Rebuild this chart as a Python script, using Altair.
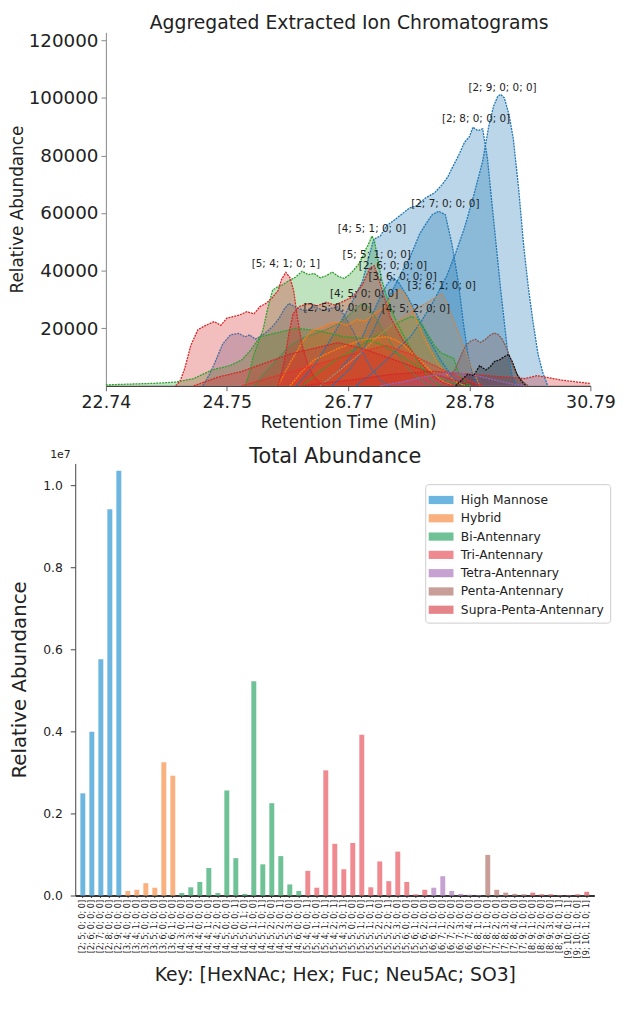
import altair as alt
import pandas as pd

FONT = "DejaVu Sans"

# ---------------- Top chart: aggregated extracted ion chromatograms ----------------
t_2_9 = [26.9, 27.2, 27.5, 27.8, 28.0, 28.2, 28.4, 28.55, 28.7, 28.85, 29.0, 29.1, 29.18, 29.25, 29.3, 29.36, 29.44, 29.51, 29.6, 29.68, 29.76, 29.84, 29.92, 30.0, 30.08]
a_2_9 = [0, 5000, 11000, 17000, 23000, 30000, 38000, 46000, 55000, 66000, 78000, 90000, 97000, 100500, 101200, 100000, 94000, 85700, 68000, 49000, 34000, 21700, 11000, 4500, 0]

t_2_8 = [25.9, 26.2, 26.5, 26.8, 27.0, 27.1, 27.19, 27.3, 27.4, 27.51, 27.65, 27.78, 27.9, 28.05, 28.2, 28.32, 28.42, 28.49, 28.6, 28.7, 28.78, 28.84, 28.92, 29.0, 29.08, 29.19, 29.3, 29.41, 29.49, 29.57]
a_2_8 = [0, 7000, 17000, 28000, 36000, 44000, 50900, 52000, 55500, 57200, 59500, 61700, 62500, 65200, 67000, 69700, 72500, 75500, 80000, 84600, 86500, 89800, 88600, 89200, 78900, 56000, 33300, 12700, 3400, 0]

t_2_7 = [26.5, 26.8, 27.0, 27.2, 27.35, 27.5, 27.67, 27.8, 27.95, 28.05, 28.16, 28.27, 28.38, 28.49, 28.6, 28.68, 28.76, 28.84, 28.92]
a_2_7 = [0, 6000, 12000, 20000, 27000, 33000, 40000, 45000, 52600, 56000, 59400, 60600, 59400, 49200, 35400, 21700, 10300, 3400, 0]

t_2_6 = [26.3, 26.6, 26.8, 27.0, 27.15, 27.3, 27.42, 27.51, 27.6, 27.75, 27.9, 28.1, 28.3, 28.5, 28.7]
a_2_6 = [0, 5000, 10000, 17000, 24000, 31000, 35500, 37500, 36000, 31000, 25000, 16500, 9000, 3000, 0]

t_2_5 = [24.35, 24.45, 24.55, 24.68, 24.81, 24.95, 25.05, 25.13, 25.22, 25.28, 25.4, 25.51, 25.62, 25.7, 25.78, 25.9, 26.05, 26.2, 26.35, 26.5, 26.59, 26.7, 26.85, 27.0, 27.15, 27.3, 27.45]
a_2_5 = [0, 3500, 8000, 14500, 17700, 18200, 17000, 17700, 16200, 16800, 18500, 20600, 23500, 26500, 28600, 27200, 26000, 27400, 26300, 27000, 27400, 24500, 19000, 12000, 6000, 2000, 0]

t_4_5_1 = [25.05, 25.12, 25.19, 25.27, 25.35, 25.43, 25.51, 25.6, 25.67, 25.78, 25.89, 26.0, 26.1, 26.2, 26.3, 26.4, 26.5, 26.6, 26.7, 26.78, 26.85, 26.93, 27.0, 27.06, 27.1, 27.16, 27.2, 27.24, 27.32, 27.42, 27.51, 27.6, 27.7, 27.8, 27.9, 28.0, 28.1, 28.2, 28.3]
a_4_5_1 = [0, 4000, 10300, 15000, 19400, 27000, 33200, 34500, 35000, 36500, 37700, 39800, 38600, 39000, 37500, 38200, 39500, 38000, 37300, 38500, 40000, 42000, 44600, 47500, 49000, 52000, 50500, 46000, 37000, 30000, 25100, 21000, 17000, 13000, 9000, 6000, 3000, 1200, 0]

t_4_5_0 = [25.2, 25.4, 25.6, 25.8, 26.0, 26.2, 26.4, 26.6, 26.75, 26.9, 27.0, 27.1, 27.2, 27.35, 27.5, 27.65, 27.8, 28.0, 28.15]
a_4_5_0 = [0, 5000, 9500, 14000, 16500, 18000, 19500, 21500, 24000, 27000, 28500, 27500, 24500, 19000, 14000, 9000, 5000, 1500, 0]

t_4_5_2 = [26.0, 26.3, 26.6, 26.9, 27.2, 27.4, 27.55, 27.7, 27.81, 27.9, 28.0, 28.1, 28.2, 28.3, 28.43, 28.52, 28.6, 28.7, 28.8]
a_4_5_2 = [0, 5000, 9500, 13000, 17000, 19500, 21500, 23000, 24000, 23500, 21000, 17500, 14000, 11500, 10300, 9500, 4500, 1500, 0]

t_4_4_1 = [22.74, 23.0, 23.3, 23.6, 23.9, 24.2, 24.5, 24.8, 25.0, 25.15, 25.3, 25.6, 25.9, 26.1, 26.3, 26.5, 26.7, 27.0, 27.3, 27.6, 27.9, 28.2, 28.5, 28.8]
a_4_4_1 = [300, 500, 700, 900, 1300, 2500, 5500, 7000, 9000, 12500, 17000, 18500, 20000, 19500, 19000, 18000, 17000, 16500, 14500, 11000, 7000, 3500, 1000, 0]

t_3_6_0 = [25.6, 25.8, 26.0, 26.15, 26.3, 26.45, 26.6, 26.75, 26.9, 27.05, 27.2, 27.35, 27.45, 27.55, 27.62, 27.7, 27.8, 27.9, 28.0, 28.12, 28.25, 28.4, 28.55, 28.7]
a_3_6_0 = [0, 8000, 15000, 19000, 20000, 21500, 22000, 21000, 23000, 22500, 25000, 27000, 30000, 32000, 33500, 32000, 28000, 23000, 18000, 13000, 8000, 4000, 1500, 0]

t_3_6_1 = [26.3, 26.6, 26.9, 27.1, 27.3, 27.5, 27.7, 27.9, 28.05, 28.2, 28.32, 28.4, 28.49, 28.6, 28.7, 28.8, 28.87, 28.95]
a_3_6_1 = [0, 5000, 10000, 14000, 18000, 21000, 24000, 27000, 28500, 30500, 32000, 29000, 24000, 18300, 12600, 7000, 4000, 0]

t_3_5_1 = [25.8, 26.0, 26.2, 26.4, 26.6, 26.8, 27.0, 27.2, 27.4, 27.55, 27.7, 27.85, 28.0, 28.15, 28.3, 28.5]
a_3_5_1 = [0, 5000, 9000, 11000, 13000, 14500, 16000, 16500, 17000, 16000, 14000, 11000, 8000, 5000, 2000, 0]

t_5_4_1 = [23.9, 23.97, 24.05, 24.15, 24.27, 24.4, 24.54, 24.65, 24.75, 24.85, 24.95, 25.08, 25.2, 25.3, 25.4, 25.5, 25.6, 25.66, 25.73, 25.8, 25.86, 25.92, 26.0, 26.1, 26.2, 26.35]
a_5_4_1 = [0, 1500, 6000, 14000, 19500, 21000, 22300, 21000, 23500, 24000, 24500, 25700, 25000, 27500, 28600, 30500, 33000, 37000, 39400, 37500, 33000, 24000, 14000, 7000, 3000, 0]

t_5_5_1 = [25.6, 25.7, 25.78, 25.85, 25.95, 26.1, 26.25, 26.4, 26.55, 26.7, 26.85, 27.0, 27.13, 27.2, 27.3, 27.46, 27.67, 27.89, 28.05, 28.2, 28.35, 28.5]
a_5_5_1 = [0, 8000, 18000, 25000, 27500, 28500, 27800, 29000, 28000, 29500, 31000, 35000, 41000, 41700, 35400, 24000, 16000, 10300, 6000, 3000, 1000, 0]

t_5_4_2 = [24.2, 24.6, 25.0, 25.4, 25.8, 26.2, 26.6, 27.0, 27.4, 27.8, 28.2, 28.6, 29.0]
a_5_4_2 = [0, 3000, 5000, 8000, 11000, 13000, 15000, 13000, 10000, 7000, 4000, 1500, 0]

t_5_5_2 = [25.0, 25.5, 26.0, 26.5, 27.0, 27.4, 27.8, 28.2, 28.6, 29.0]
a_5_5_2 = [0, 3000, 6000, 9000, 12000, 14000, 11000, 7000, 3000, 0]

t_5_6_1 = [26.0, 26.8, 27.5, 28.2, 28.8, 29.4, 29.7, 29.9, 30.1, 30.3, 30.5, 30.79]
a_5_6_1 = [0, 2000, 4000, 5000, 4000, 3000, 2500, 3500, 2800, 2000, 1500, 800]

t_7_8_1 = [28.3, 28.45, 28.55, 28.65, 28.72, 28.8, 28.88, 28.96, 29.04, 29.12, 29.19, 29.26, 29.33, 29.4, 29.5, 29.6, 29.68, 29.76]
a_7_8_1 = [0, 3000, 6000, 11000, 14000, 15500, 16200, 15000, 16000, 17500, 18300, 17800, 16000, 13000, 7000, 3000, 1200, 0]

t_8_9_1 = [28.55, 28.65, 28.75, 28.85, 28.95, 29.05, 29.12, 29.2, 29.28, 29.35, 29.43, 29.5, 29.57, 29.65, 29.72]
a_8_9_1 = [0, 2000, 4000, 3500, 7000, 5500, 6500, 8500, 9000, 10000, 10900, 8000, 4000, 1500, 0]

t_6_7_1 = [27.3, 27.7, 28.0, 28.3, 28.5, 28.7, 28.9, 29.1, 29.3, 29.5, 29.7]
a_6_7_1 = [0, 1500, 3000, 4000, 4800, 4000, 3500, 2500, 1500, 600, 0]

series = [
    ("[2; 9; 0; 0; 0]", t_2_9, a_2_9, "#1f77b4"),
    ("[2; 8; 0; 0; 0]", t_2_8, a_2_8, "#1f77b4"),
    ("[2; 7; 0; 0; 0]", t_2_7, a_2_7, "#1f77b4"),
    ("[2; 6; 0; 0; 0]", t_2_6, a_2_6, "#1f77b4"),
    ("[2; 5; 0; 0; 0]", t_2_5, a_2_5, "#4a6a9e"),
    ("[4; 4; 1; 0; 0]", t_4_4_1, a_4_4_1, "#2ca02c"),
    ("[4; 5; 0; 0; 0]", t_4_5_0, a_4_5_0, "#4e8a52"),
    ("[4; 5; 1; 0; 0]", t_4_5_1, a_4_5_1, "#2ca02c"),
    ("[4; 5; 2; 0; 0]", t_4_5_2, a_4_5_2, "#2ca02c"),
    ("[3; 5; 1; 0; 0]", t_3_5_1, a_3_5_1, "#ff7f0e"),
    ("[3; 6; 0; 0; 0]", t_3_6_0, a_3_6_0, "#ff7f0e"),
    ("[3; 6; 1; 0; 0]", t_3_6_1, a_3_6_1, "#c8874f"),
    ("[5; 4; 1; 0; 1]", t_5_4_1, a_5_4_1, "#d62728"),
    ("[5; 5; 1; 0; 0]", t_5_5_1, a_5_5_1, "#d62728"),
    ("[5; 4; 2; 0; 1]", t_5_4_2, a_5_4_2, "#d62728"),
    ("[5; 5; 2; 0; 0]", t_5_5_2, a_5_5_2, "#e8322a"),
    ("[5; 6; 1; 0; 0]", t_5_6_1, a_5_6_1, "#d62728"),
    ("[6; 7; 1; 0; 0]", t_6_7_1, a_6_7_1, "#9467bd"),
    ("[7; 8; 1; 0; 0]", t_7_8_1, a_7_8_1, "#8c564b"),
    ("[8; 9; 1; 0; 0]", t_8_9_1, a_8_9_1, "#111111"),
]

peak_labels = ["[2; 9; 0; 0; 0]", "[2; 8; 0; 0; 0]", "[2; 7; 0; 0; 0]", "[4; 5; 1; 0; 0]",
               "[5; 5; 1; 0; 0]", "[2; 6; 0; 0; 0]", "[3; 6; 0; 0; 0]", "[3; 6; 1; 0; 0]",
               "[4; 5; 0; 0; 0]", "[2; 5; 0; 0; 0]", "[4; 5; 2; 0; 0]", "[5; 4; 1; 0; 1]"]
peak_t = [29.33, 28.89, 28.38, 27.16, 27.24, 27.51, 27.67, 28.32, 27.03, 26.59, 27.89, 25.73]
peak_a = [103500, 92600, 63100, 54600, 45500, 41700, 37700, 34500, 31800, 26900, 26500, 42300]

rt_ticks = [22.74, 24.75, 26.77, 28.78, 30.79]
ab_ticks = [20000, 40000, 60000, 80000, 100000, 120000]

top_title = ["Aggregated Extracted Ion Chromatograms"]
bottom_title = ["Total Abundance"]
offset_text = ["1e7"]

rows = []
for k, (name, ts, as_, col) in enumerate(series):
    for ti, ai in zip(ts, as_):
        rows.append({"series": name, "t": ti, "a": ai, "color": col, "k": k})
chrom = pd.DataFrame(rows)
lbl_df = pd.DataFrame({"label": peak_labels, "t": peak_t, "a": peak_a})

xs = alt.Scale(domain=[22.74, 30.79], nice=False, zero=False)
ys = alt.Scale(domain=[0, 122750], nice=False)

x_top = alt.X("t:Q", scale=xs, axis=alt.Axis(
    values=rt_ticks, format=".2f", title="Retention Time (Min)", grid=False,
    labelFontSize=17.5, titleFontSize=17, titleFontWeight="normal", tickSize=5,
    labelPadding=3, titlePadding=4, domainColor="#444", tickColor="#666",
    labelColor="#222", titleColor="#222", labelFlush=False, domainWidth=1.3))
y_top = alt.Y("a:Q", stack=None, scale=ys, axis=alt.Axis(
    values=ab_ticks, format="d", title="Relative Abundance", grid=False,
    labelFontSize=18.5, titleFontSize=17, titleFontWeight="normal", tickSize=5,
    labelPadding=3, titlePadding=2, domainColor="#888", tickColor="#888",
    labelColor="#222", titleColor="#222"))

base = alt.Chart(chrom).encode(x=x_top, y=y_top, detail="series:N")
areas = base.mark_area(fillOpacity=0.3, orient="vertical").encode(
    fill=alt.Fill("color:N", scale=None))
lines = base.mark_line(strokeWidth=1.3, strokeDash=[2, 1]).encode(
    stroke=alt.Stroke("color:N", scale=None))
texts = alt.Chart(lbl_df).mark_text(fontSize=10.5, font=FONT, color="#222").encode(
    x=alt.X("t:Q", scale=xs), y=alt.Y("a:Q", scale=ys), text="label:N")
title_top = alt.Chart(pd.DataFrame({"txt": top_title})).mark_text(
    fontSize=19, font=FONT, color="#222", baseline="middle").encode(
    x=alt.value(246), y=alt.value(-9.5), text="txt:N")

top = alt.layer(areas, lines, texts, title_top).properties(width=490, height=357.5)

# ---------------- Bottom chart: total abundance ----------------
keys = ["[2; 5; 0; 0; 0]", "[2; 6; 0; 0; 0]", "[2; 7; 0; 0; 0]", "[2; 8; 0; 0; 0]", "[2; 9; 0; 0; 0]",
        "[3; 4; 0; 0; 0]", "[3; 4; 1; 0; 0]", "[3; 5; 0; 0; 0]", "[3; 5; 1; 0; 0]", "[3; 6; 0; 0; 0]", "[3; 6; 1; 0; 0]",
        "[4; 3; 0; 0; 0]", "[4; 3; 1; 0; 0]", "[4; 4; 0; 0; 0]", "[4; 4; 1; 0; 0]", "[4; 4; 2; 0; 0]",
        "[4; 5; 0; 0; 0]", "[4; 5; 0; 0; 1]", "[4; 5; 0; 1; 0]", "[4; 5; 1; 0; 0]", "[4; 5; 1; 0; 1]",
        "[4; 5; 2; 0; 0]", "[4; 5; 2; 0; 1]", "[4; 5; 3; 0; 0]", "[4; 6; 0; 0; 0]",
        "[5; 4; 0; 0; 1]", "[5; 4; 1; 0; 0]", "[5; 4; 1; 0; 1]", "[5; 4; 2; 0; 1]", "[5; 4; 3; 0; 1]",
        "[5; 5; 0; 0; 0]", "[5; 5; 1; 0; 0]", "[5; 5; 1; 0; 1]", "[5; 5; 2; 0; 0]", "[5; 5; 2; 0; 1]",
        "[5; 5; 3; 0; 0]", "[5; 6; 0; 0; 0]", "[5; 6; 1; 0; 0]", "[5; 6; 2; 0; 0]",
        "[6; 6; 1; 0; 0]", "[6; 7; 1; 0; 0]", "[6; 7; 2; 0; 0]", "[6; 7; 3; 0; 0]", "[6; 7; 4; 0; 0]", "[6; 8; 1; 0; 0]",
        "[7; 8; 1; 0; 0]", "[7; 8; 2; 0; 0]", "[7; 8; 3; 0; 0]", "[7; 8; 4; 0; 0]", "[7; 9; 1; 0; 0]",
        "[8; 9; 1; 0; 0]", "[8; 9; 2; 0; 0]", "[8; 9; 3; 0; 0]", "[8; 9; 4; 0; 1]",
        "[9; 10; 0; 0; 1]", "[9; 10; 1; 0; 0]", "[9; 10; 1; 0; 1]"]
values = [2.49e6, 3.99e6, 5.76e6, 9.41e6, 10.35e6,
          0.11e6, 0.14e6, 0.30e6, 0.19e6, 3.25e6, 2.92e6,
          0.06e6, 0.20e6, 0.33e6, 0.67e6, 0.06e6, 2.56e6, 0.91e6, 0.04e6, 5.22e6, 0.76e6,
          2.25e6, 0.96e6, 0.27e6, 0.11e6,
          0.60e6, 0.19e6, 3.05e6, 1.26e6, 0.64e6, 1.28e6, 3.92e6, 0.20e6, 0.83e6, 0.35e6,
          1.07e6, 0.33e6, 0.03e6, 0.14e6,
          0.19e6, 0.47e6, 0.11e6, 0.04e6, 0.02e6, 0.01e6,
          0.99e6, 0.14e6, 0.07e6, 0.04e6, 0.03e6,
          0.07e6, 0.03e6, 0.03e6, 0.01e6, 0.01e6, 0.03e6, 0.09e6]
group_names = ["High Mannose", "Hybrid", "Bi-Antennary", "Tri-Antennary",
               "Tetra-Antennary", "Penta-Antennary", "Supra-Penta-Antennary"]
group_counts = [5, 6, 14, 14, 6, 5, 7]
group_colors = ["#6db6df", "#f9b27f", "#6fc296", "#f08a91", "#c6a2d2", "#c99e99", "#e5858a"]

groups = []
for g, n in zip(group_names, group_counts):
    groups += [g] * n
bars_df = pd.DataFrame({"key": keys, "value": values, "group": groups})

y_ticks = [0, 2e6, 4e6, 6e6, 8e6, 1e7]

bars = alt.Chart(bars_df).mark_bar().encode(
    x=alt.X("key:N", sort=keys,
            scale=alt.Scale(range=[-31, 494], paddingInner=0.45, paddingOuter=0.57),
            axis=alt.Axis(labelAngle=-90, labelFontSize=8.2, labelOverlap=False,
                          title="Key: [HexNAc; Hex; Fuc; Neu5Ac; SO3]", titleFontSize=19,
                          titleFontWeight="normal", tickSize=2, labelPadding=2,
                          titlePadding=8, domainColor="#333", domainWidth=2,
                          tickColor="#333", labelColor="#222", titleColor="#222")),
    y=alt.Y("value:Q", scale=alt.Scale(domain=[0, 1.053e7], nice=False),
            axis=alt.Axis(values=y_ticks, labelExpr="format(datum.value / 10000000, '.1f')",
                          offset=31, title="Relative Abundance", titleFontSize=20,
                          titleFontWeight="normal", labelFontSize=12.5, tickSize=5,
                          labelPadding=8, titlePadding=13, grid=False,
                          domainColor="#444", tickColor="#444",
                          labelColor="#222", titleColor="#222")),
    color=alt.Color("group:N", scale=alt.Scale(domain=group_names, range=group_colors),
                    legend=alt.Legend(title=None, orient="none", legendX=323, legendY=21,
                                      direction="vertical", labelFontSize=12.4,
                                      symbolType="M-1.3,-0.43H1.3V0.43H-1.3Z", symbolSize=372,
                                      symbolStrokeWidth=0, strokeColor="#cccccc",
                                      fillColor="white", padding=6, cornerRadius=3,
                                      rowPadding=1.5, labelOffset=10, labelColor="#222")),
)

offset_label = alt.Chart(pd.DataFrame({"txt": offset_text})).mark_text(
    fontSize=11, font=FONT, color="#222", baseline="middle").encode(
    x=alt.value(-46), y=alt.value(-8), text="txt:N")
title_bottom = alt.Chart(pd.DataFrame({"txt": bottom_title})).mark_text(
    fontSize=21, font=FONT, color="#222", baseline="middle").encode(
    x=alt.value(232), y=alt.value(-6), text="txt:N")

bottom = alt.layer(bars, offset_label, title_bottom).properties(width=494, height=437)

chart = alt.vconcat(top, bottom, spacing=16).resolve_scale(
    color="independent", x="independent", y="independent"
).properties(padding=0).configure_view(stroke=None).configure_axis(
    labelFont=FONT, titleFont=FONT
).configure_legend(labelFont=FONT).configure_title(font=FONT)

chart.save("out.html", embed_options={"renderer": "svg", "actions": False})
